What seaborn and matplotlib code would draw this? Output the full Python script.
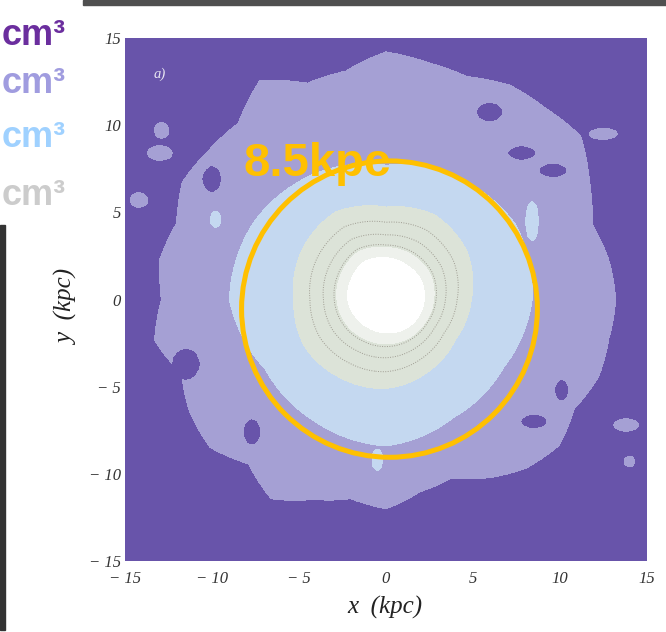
import numpy as np
import matplotlib
matplotlib.use("Agg")
import matplotlib.pyplot as plt
from matplotlib.patches import Circle, Rectangle
import seaborn as sns

# ---- density contour boundaries (kpc), sampled by polar angle (deg, CCW from +x)
outer_angles = np.arange(0, 360, 10)
outer_radii = [13.2, 13.0, 12.6, 13.5, 14.6, 14.3, 14.2, 13.6, 13.8, 14.2,
               13.3, 13.2, 14.5, 13.2, 13.3, 13.5, 12.8, 13.2, 12.9, 13.5,
               12.5, 13.0, 13.2, 12.3, 13.2, 12.2, 11.6, 12.0, 11.2, 10.9,
               11.8, 12.6, 13.0, 12.5, 13.0, 13.0]
inner_angles = np.arange(0, 360, 30)
blue_radii = [8.4, 8.6, 8.1, 7.7, 8.3, 8.8, 9.0, 8.0, 8.1, 8.4, 7.8, 7.8]
pale_radii = [4.9, 5.4, 5.6, 5.3, 5.8, 5.6, 5.3, 5.4, 5.2, 5.1, 4.8, 4.6]
core_radii = [2.2, 2.3, 2.3, 2.4, 2.5, 2.3, 2.2, 2.0, 1.9, 1.9, 2.0, 2.1]

# isolated patches: centre x, centre y, half-widths (kpc), band value
island_x = [5.95, 7.8, 9.6, -10.0, -11.5, -7.7, 10.1, 8.5,
            -13.0, -12.9, -14.2, 13.8, 12.5, 14.0,
            -9.8, 8.4, -0.5]
island_y = [10.75, 8.4, 7.4, 6.9, -3.7, -7.6, -5.2, -7.0,
            8.4, 9.7, 5.7, -7.2, 9.5, -9.3,
            4.6, 4.5, -9.2]
island_rx = [0.75, 0.8, 0.8, 0.55, 0.8, 0.5, 0.4, 0.75,
             0.7, 0.4, 0.5, 0.7, 0.8, 0.3,
             0.3, 0.35, 0.3]
island_ry = [0.55, 0.4, 0.4, 0.75, 0.9, 0.75, 0.6, 0.4,
             0.4, 0.45, 0.4, 0.35, 0.3, 0.3,
             0.45, 1.1, 0.6]
island_band = [0.5, 0.5, 0.5, 0.5, 0.5, 0.5, 0.5, 0.5,
               1.5, 1.5, 1.5, 1.5, 1.5, 1.5,
               2.5, 2.5, 2.5]

band_edges = [-10, 1, 2, 3, 3.8, 4, 6]
band_colors = ["#6854AA", "#A5A0D4", "#C4D8F0", "#DCE3D8", "#EEF1EC", "#FFFFFF"]

tick_values = [-15, -10, -5, 0, 5, 10, 15]
solar_radius = 8.5
solar_centre = (0.2, -0.55)

legend_units = ["cm³", "cm³", "cm³", "cm³"]
legend_colors = ["#6B2E9E", "#A09CDF", "#9FD1FF", "#CCCCCC"]
legend_baselines_px = [45, 93, 147, 205]

# ---- style
sns.set_theme(style="white")
palette = sns.color_palette(band_colors)

W, H = 666, 632
fig = plt.figure(figsize=(W / 100, H / 100), dpi=100)
fig.patch.set_facecolor("white")
ax = fig.add_axes([125 / W, 1 - 561 / H, 522 / W, 523 / H])

# ---- field built from the sampled boundaries
grid = np.linspace(-15, 15, 701)
X, Y = np.meshgrid(grid, grid)
R = np.hypot(X, Y)
T = np.degrees(np.arctan2(Y, X)) % 360


def ring(angles, radii):
    return np.interp(T, angles, radii, period=360)


R1 = ring(inner_angles, core_radii)
R2 = ring(inner_angles, pale_radii)
R3 = ring(inner_angles, blue_radii)
R4 = ring(outer_angles, outer_radii)
V = np.select(
    [R < R1, R < R2, R < R3, R < R4],
    [5 - R / R1, 3 + (R2 - R) / (R2 - R1), 2 + (R3 - R) / (R3 - R2),
     1 + (R4 - R) / (R4 - R3)],
    default=1 - (R - R4) / 10,
)
for cx, cy, rx, ry, band in zip(island_x, island_y, island_rx, island_ry,
                                island_band):
    V[((X - cx) / rx) ** 2 + ((Y - cy) / ry) ** 2 < 1] = band

ax.contourf(X, Y, V, levels=band_edges, colors=palette)
ax.contour(X, Y, V, levels=[3.3, 3.55, 3.75], colors="#8f8a80",
           linewidths=0.7, linestyles=[(0, (1, 1.5))], alpha=0.8)

# ---- solar circle
ax.add_patch(Circle(solar_centre, solar_radius, fill=False,
                    edgecolor="#FFC000", linewidth=3.6, zorder=5))
ax.text(-8.2, 7.06, f"{solar_radius:g}kpc", color="#FFC000",
        fontsize=34, fontweight="bold", family="Liberation Sans",
        ha="left", va="baseline", zorder=6)

ax.text(0.066, 0.93, "a)", transform=ax.transAxes, color="#E8E6F2",
        fontsize=10.5, style="italic", family="Liberation Serif",
        ha="center", va="center")

# ---- axes
ax.set_xlim(-15, 15)
ax.set_ylim(-15, 15)
ax.set_aspect("auto")
for s in ax.spines.values():
    s.set_visible(False)


def fmt(v):
    return f"\u2212 {abs(v)}" if v < 0 else f"{v}"


ax.set_xticks(tick_values)
ax.set_yticks(tick_values)
ax.set_xticklabels([fmt(v) for v in tick_values])
ax.set_yticklabels([fmt(v) for v in tick_values])
ax.tick_params(length=0, labelsize=12, colors="#333333")
ax.tick_params(axis="x", pad=7)
ax.tick_params(axis="y", pad=3)
for lab in ax.get_xticklabels() + ax.get_yticklabels():
    lab.set_family("Liberation Serif")
    lab.set_style("italic")

ax.set_xlabel("x  (kpc)", fontsize=18, family="Liberation Serif",
              color="#222222")
ax.set_ylabel("y  (kpc)", fontsize=18, family="Liberation Serif",
              color="#222222")
ax.xaxis.label.set_style("italic")
ax.yaxis.label.set_style("italic")
ax.xaxis.set_label_coords(0.498, -0.088)
ax.xaxis.label.set_va("center")
ax.yaxis.set_label_coords(-0.111, 0.484)
ax.yaxis.label.set_va("center")

# ---- surrounding slide elements
for txt, col, base in zip(legend_units, legend_colors, legend_baselines_px):
    fig.text(66 / W, 1 - base / H, txt, color=col, fontsize=26,
             fontweight="bold", family="Liberation Sans",
             ha="right", va="baseline")

fig.patches.append(Rectangle((83 / W, 1 - 4.5 / H), (W - 83) / W, 4.5 / H,
                             transform=fig.transFigure, color="#505050",
                             zorder=10))
fig.patches.append(Rectangle((0, 1 - 630 / H), 5 / W, (630 - 225) / H,
                             transform=fig.transFigure, color="#333333",
                             zorder=10))

fig.savefig("out.png", dpi=100)
